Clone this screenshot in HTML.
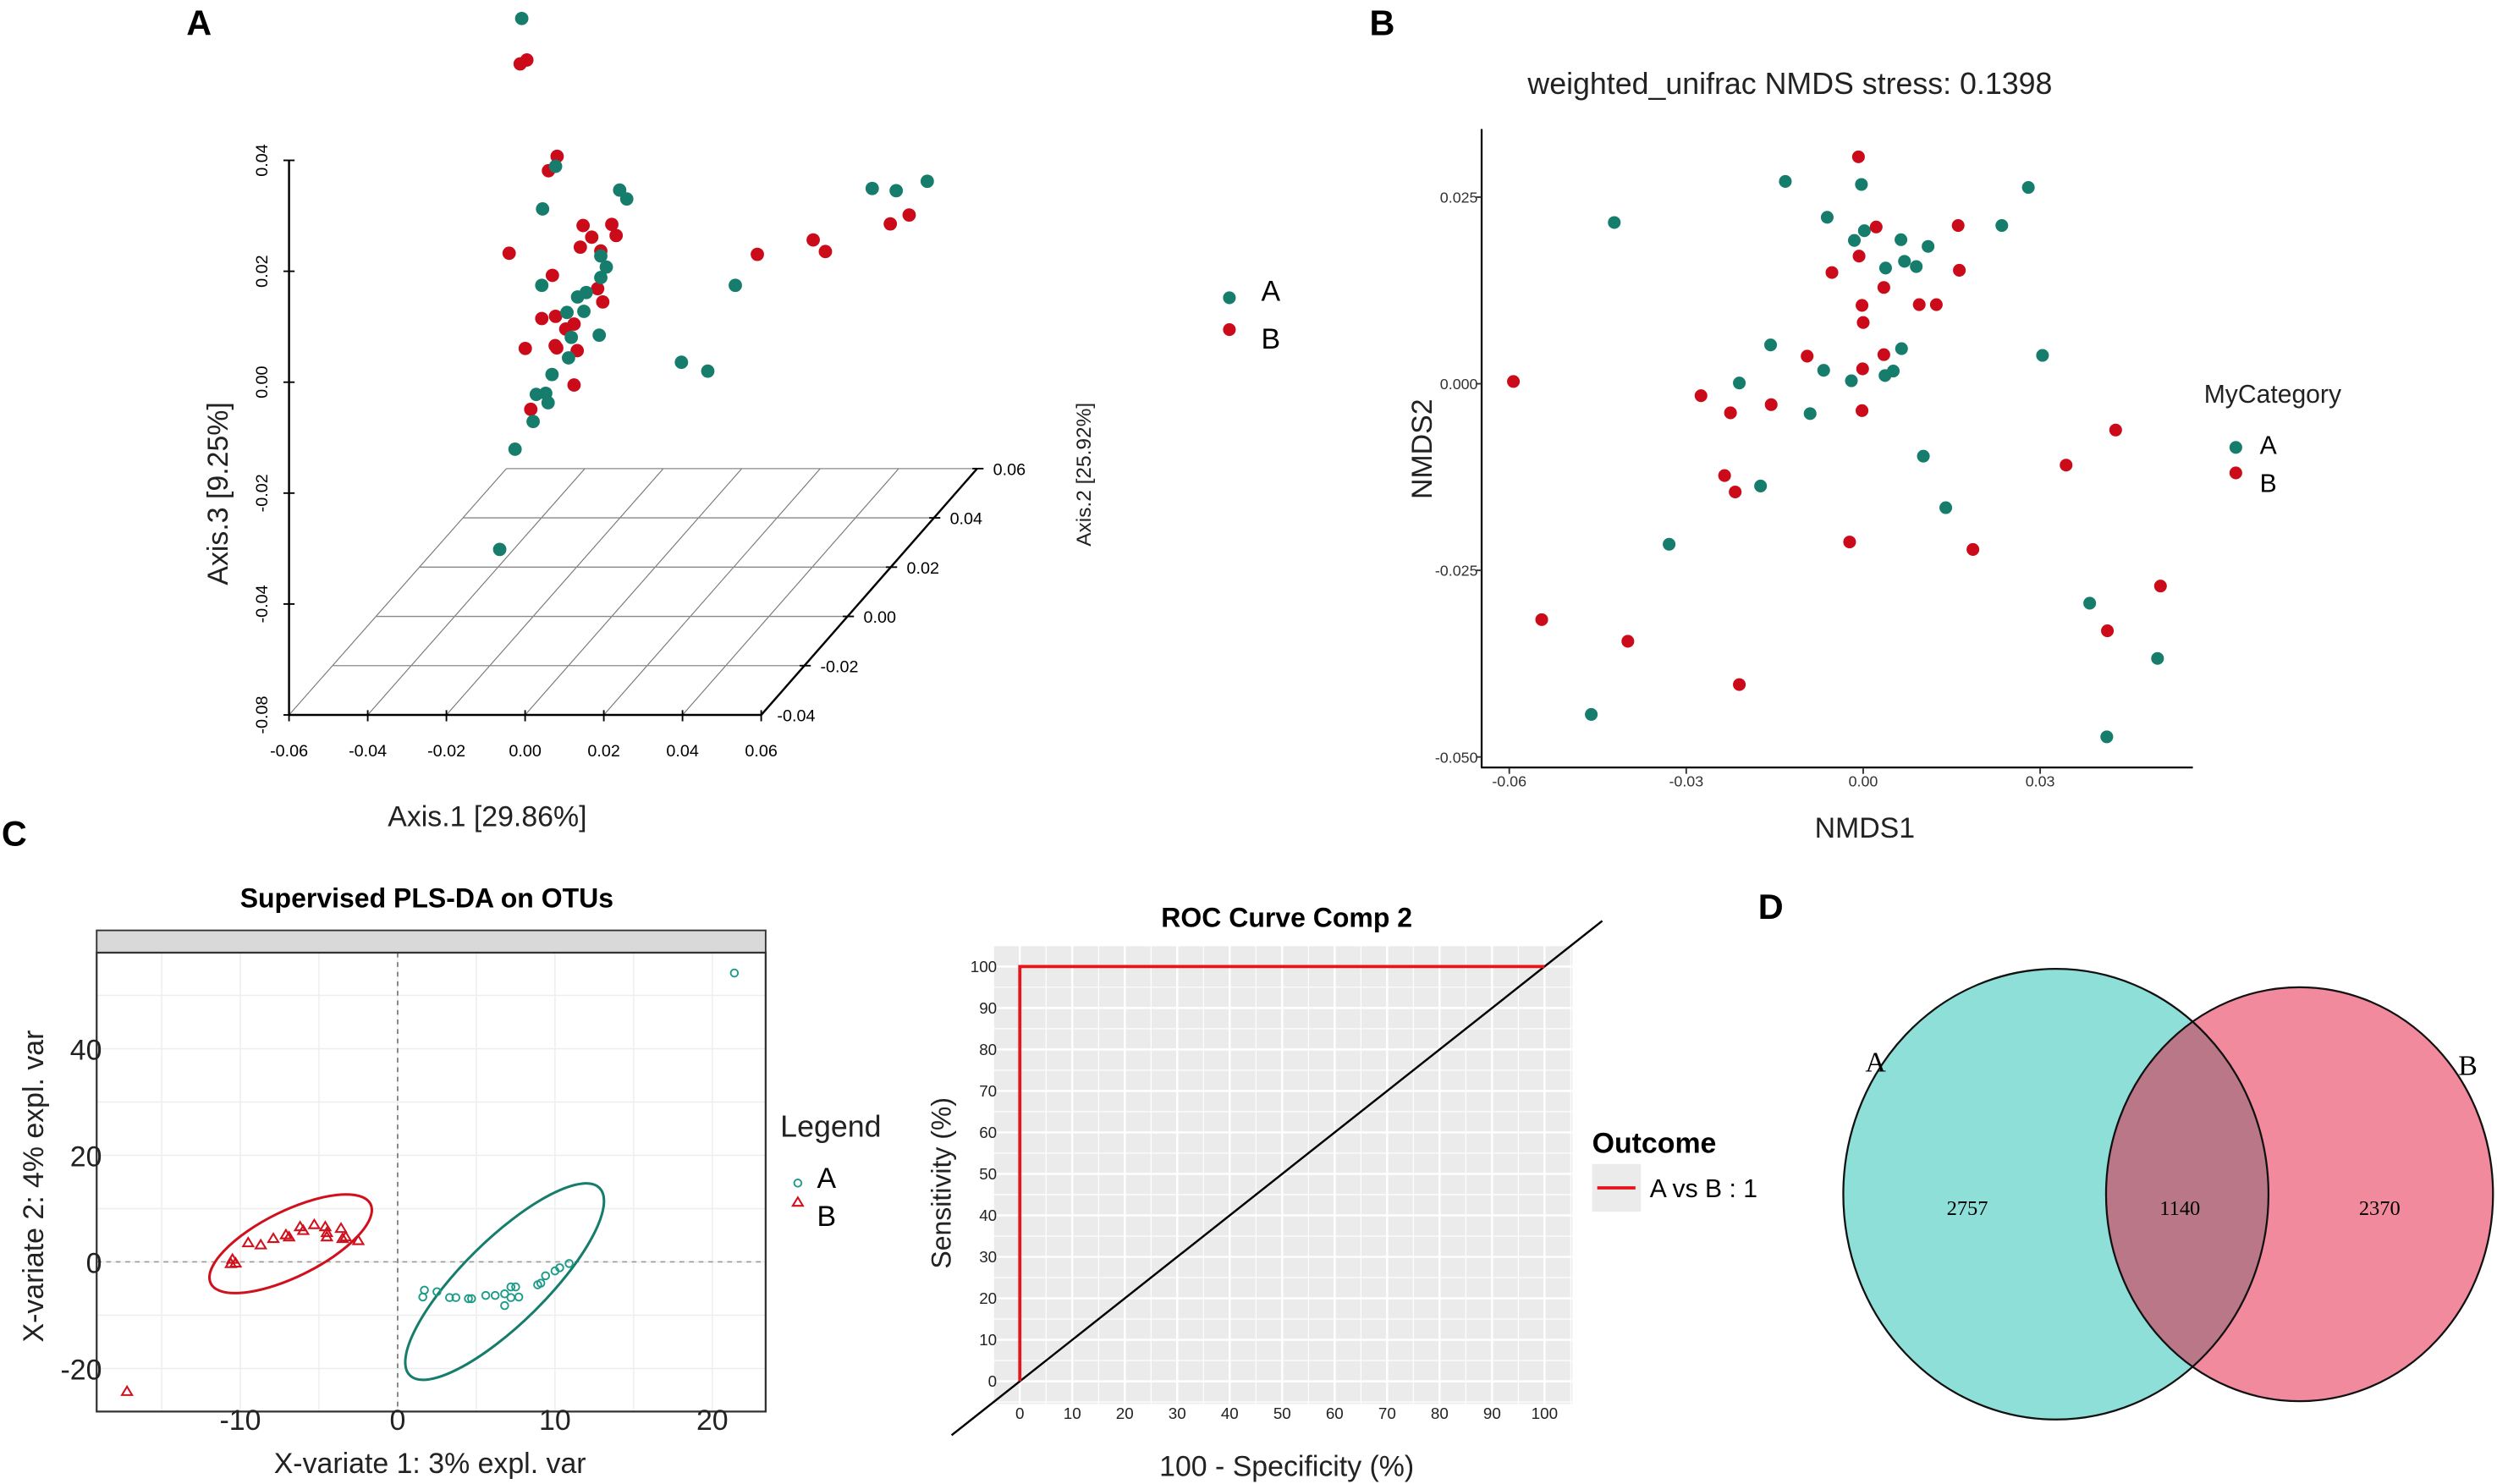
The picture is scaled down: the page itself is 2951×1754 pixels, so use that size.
<!DOCTYPE html>
<html><head><meta charset="utf-8"><style>
html,body{margin:0;padding:0;background:#fff;}
svg{display:block;font-family:"Liberation Sans",Arial,sans-serif;}
</style></head><body>
<svg id="fig" width="2951" height="1754" viewBox="0 0 1568 932" preserveAspectRatio="none" xmlns="http://www.w3.org/2000/svg">
<rect x="0" y="0" width="1568" height="932" fill="#fff"/>
<text x="117" y="22" font-size="22" font-weight="bold">A</text>
<text x="860" y="22" font-size="22" font-weight="bold">B</text>
<text x="1" y="531" font-size="22" font-weight="bold">C</text>
<text x="1104" y="577" font-size="22" font-weight="bold">D</text>

<g id="pA"></g>
<g id="pB"></g>
<g id="pC"></g>
<g id="pR"></g>
<g id="pD"></g>
</svg>
<script>
// ---------- Panel A data (projected Axis.1 / Axis.3, in thousandths) ----------
const pcoaAx1A = [-0.8,7.8,4.5,24.1,25.9,88.3,94.4,102.3,19.3,20.7,19.3,4.3,53.5,13.4,15.6,10.7,15.0,11.8,18.9,11.1,39.8,46.5,6.9,2.9,5.3,5.9,2.1,-2.5,-6.4];
const pcoaAx3A = [65.6,38.9,31.2,34.6,33.0,34.9,34.5,36.2,22.7,20.7,18.8,17.4,17.4,15.3,16.1,12.5,12.7,8.0,8.4,4.3,3.5,1.9,1.3,-2.3,-2.1,-3.8,-7.2,-12.2,-30.3];
const pcoaAx1B = [-1.2,0.5,8.2,6.0,14.8,22.1,23.2,17.0,14.1,-4.0,59.1,73.3,76.4,92.9,97.7,19.3,7.0,18.5,19.8,4.3,7.8,10.4,12.5,0.1,7.7,8.1,13.3,12.5,1.5];
const pcoaAx3B = [57.4,58.1,40.7,38.1,28.2,28.4,26.4,26.1,24.3,23.2,23.0,25.6,23.5,28.5,30.1,23.6,19.2,16.8,14.4,11.4,11.8,9.5,10.4,6.0,6.5,6.1,5.6,-0.6,-5.0];
const pcoaXTicks = ["-0.06","-0.04","-0.02","0.00","0.02","0.04","0.06"];
const pcoaZTicks = ["0.04","0.02","0.00","-0.02","-0.04","-0.08"];
const pcoaYTicks = ["-0.04","-0.02","0.00","0.02","0.04","0.06"];
// ---------- Panel B data (thousandths) ----------
const nmdsXA = [-13.2,-0.3,28.0,-42.2,-6.1,23.5,0.2,-1.5,6.4,11.0,7.0,3.8,9.0,-15.7,6.5,30.4,-6.7,5.1,3.7,-21.0,-2.0,-9.0,10.2,-17.4,14.0,-32.9,38.4,49.9,-46.1,41.3];
const nmdsYA = [27.1,26.7,26.3,21.6,22.3,21.2,20.5,19.2,19.3,18.4,16.4,15.5,15.7,5.2,4.7,3.8,1.8,1.7,1.1,0.1,0.4,-4.0,-9.7,-13.7,-16.6,-21.5,-29.4,-36.8,-44.3,-47.3];
const nmdsXB = [-0.8,2.2,16.1,-0.7,-5.3,16.3,3.5,-0.2,9.5,12.4,0.0,-9.5,3.5,-0.1,-59.3,-27.5,-15.6,-22.5,-0.2,42.8,34.4,-23.5,-21.7,-2.3,18.6,50.4,-54.5,41.4,-39.9,-21.0];
const nmdsYB = [30.4,21.0,21.2,17.1,14.9,15.2,12.9,10.5,10.6,10.6,8.2,3.7,3.9,2.0,0.3,-1.6,-2.8,-3.9,-3.6,-6.2,-10.9,-12.3,-14.5,-21.2,-22.2,-27.1,-31.6,-33.1,-34.5,-40.3];
const nmdsXTicks = [-60,-30,0,30];
const nmdsXLabels = ["-0.06","-0.03","0.00","0.03"];
const nmdsYTicks = [25,0,-25,-50];
const nmdsYLabels = ["0.025","0.000","-0.025","-0.050"];
// ---------- Panel C data ----------
const plsXA = [21.4,1.7,2.5,1.6,3.3,3.7,4.5,4.7,5.6,6.2,6.8,7.2,7.5,7.7,6.8,7.2,8.9,9.1,9.4,10.0,10.3,10.9];
const plsYA = [54.2,-5.3,-5.6,-6.6,-6.7,-6.7,-6.9,-6.9,-6.3,-6.3,-6.0,-4.7,-4.7,-6.6,-8.2,-6.7,-4.3,-4.0,-2.6,-1.7,-1.1,-0.3];
const plsXB = [-17.2,-10.5,-10.3,-10.6,-9.5,-8.7,-7.9,-7.1,-6.9,-6.2,-6.0,-5.3,-4.6,-4.5,-4.5,-3.6,-3.5,-2.5,-3.3];
const plsYB = [-24.3,0.5,-0.2,-0.3,3.6,3.2,4.4,5.1,4.7,6.6,5.9,7.0,6.6,5.5,4.7,6.3,4.4,4.0,4.7];
const plsEllipseCenterX = [6.8,-6.8];
const plsEllipseCenterY = [-3.7,3.4];
const plsXTicks = [-10,0,10,20];
const plsYTicks = [-20,0,20,40];
// ---------- ROC data ----------
const rocX = [0,0,100];
const rocY = [0,100,100];
const rocTicks = [0,10,20,30,40,50,60,70,80,90,100];
// ---------- Venn data ----------
const vennSets = ["A","B"];
const vennCounts = [2757,1140,2370];

const NS="http://www.w3.org/2000/svg";
function mk(tag, attrs, parent){const e=document.createElementNS(NS,tag);for(const k in attrs)e.setAttribute(k,attrs[k]);parent.appendChild(e);return e;}
function tx(str, attrs, parent){const e=mk('text',attrs,parent);e.textContent=str;return e;}
const TEAL="#167d6c", RED="#cc0b1a";

// ================= Panel A =================
(function(){
const g=document.getElementById('pA');
const ax=v=>329.6+v*2.47, ay=v=>239.7-v*3.477;
const bl=[181.5,449], br=[478,449], tl=[318,294.3], tr=[613.6,294.3];
for(let i=0;i<=6;i++){
  const t=i/6;
  const l=mk('line',{x1:bl[0]+(br[0]-bl[0])*t,y1:449,x2:tl[0]+(tr[0]-tl[0])*t,y2:294.3,stroke:'#777','stroke-width':0.6},g);
  
  
}
for(let i=0;i<=5;i++){
  const t=i/5;
  const y=449+(294.3-449)*t;
  const x1=bl[0]+(tl[0]-bl[0])*t, x2=br[0]+(tr[0]-br[0])*t;
  const l=mk('line',{x1:x1,y1:y,x2:x2,y2:y,stroke:i==0?'#000':'#888','stroke-width':i==0?1.3:0.7},g);
  
  
  if(i>0){
    const tk=mk('line',{x1:x2-3,y1:y,x2:x2+4,y2:y,stroke:'#000','stroke-width':1},g);
    
    
  }
  const lb=tx(pcoaYTicks[i],{x:x2+10,y:y+4,'font-size':10.5},g);
  
  
}
const d2=mk('line',{x1:br[0],y1:449,x2:tr[0],y2:294.3,stroke:'#000','stroke-width':1.3},g);


const v3=mk('line',{x1:181.5,y1:100.7,x2:181.5,y2:449,stroke:'#000','stroke-width':1.3},g);


for(let i=0;i<7;i++){
  const x=181.5+i*(478-181.5)/6;
  const t=mk('line',{x1:x,y1:446,x2:x,y2:453,stroke:'#000','stroke-width':1},g);
  
  
  const lb=tx(pcoaXTicks[i],{x:x,y:475,'font-size':10.5,'text-anchor':'middle'},g);
  
  
}
for(let i=0;i<6;i++){
  const y=100.7+i*(449-100.7)/5;
  const t=mk('line',{x1:178,y1:y,x2:185,y2:y,stroke:'#000','stroke-width':1},g);
  
  
  const lb=tx(pcoaZTicks[i],{x:0,y:0,'font-size':10.5,'text-anchor':'middle',transform:`translate(168,${y}) rotate(-90)`},g);
  
  
}
const t1=tx('Axis.1 [29.86%]',{x:306,y:519,'font-size':18,'text-anchor':'middle',fill:'#222'},g);


const t3=tx('Axis.3 [9.25%]',{x:0,y:0,'font-size':18,'text-anchor':'middle',fill:'#222',transform:'translate(143,310) rotate(-90)'},g);


const t2=tx('Axis.2 [25.92%]',{x:0,y:0,'font-size':13,'text-anchor':'middle',fill:'#222',transform:'translate(685,298) rotate(-90)'},g);


pcoaAx1B.forEach((v,i)=>{const c=mk('circle',{cx:ax(v),cy:ay(pcoaAx3B[i]),r:4.2,fill:RED},g);
  
  });
pcoaAx1A.forEach((v,i)=>{const c=mk('circle',{cx:ax(v),cy:ay(pcoaAx3A[i]),r:4.2,fill:TEAL},g);
  
  });
const la=mk('circle',{cx:772,cy:187,r:4,fill:TEAL},g);


const lbB=mk('circle',{cx:772,cy:207,r:4,fill:RED},g);


const lta=tx('A',{x:792,y:189,'font-size':18},g);


const ltb=tx('B',{x:792,y:219,'font-size':18},g);


})();

// ================= Panel B =================
(function(){
const g=document.getElementById('pB');
const sx=v=>1170+v*3.704, sy=v=>241-v*4.688;
const ttl=tx('weighted_unifrac NMDS stress: 0.1398',{x:1124,y:59,'font-size':19,'text-anchor':'middle',fill:'#222'},g);


const yl=mk('line',{x1:930.4,y1:81,x2:930.4,y2:482,stroke:'#000','stroke-width':1.2},g);


const xl=mk('line',{x1:930,y1:482,x2:1377,y2:482,stroke:'#000','stroke-width':1.2},g);


nmdsXTicks.forEach((v,i)=>{
  const t=mk('line',{x1:sx(v),y1:482,x2:sx(v),y2:486,stroke:'#333'},g);
  
  
  const l=tx(nmdsXLabels[i],{x:sx(v),y:494,'font-size':9.5,'text-anchor':'middle',fill:'#333'},g);
  
  
});
nmdsYTicks.forEach((v,i)=>{
  const t=mk('line',{x1:927,y1:sy(v),x2:930.4,y2:sy(v),stroke:'#333'},g);
  
  
  const l=tx(nmdsYLabels[i],{x:928,y:sy(v)+3.5,'font-size':9.5,'text-anchor':'end',fill:'#333'},g);
  
  
});
const xt=tx('NMDS1',{x:1171,y:526,'font-size':18,'text-anchor':'middle',fill:'#222'},g);


const yt=tx('NMDS2',{x:0,y:0,'font-size':18,'text-anchor':'middle',fill:'#222',transform:'translate(899,282) rotate(-90)'},g);


nmdsXA.forEach((v,i)=>{const c=mk('circle',{cx:sx(v),cy:sy(nmdsYA[i]),r:4,fill:TEAL},g);
  
  });
nmdsXB.forEach((v,i)=>{const c=mk('circle',{cx:sx(v),cy:sy(nmdsYB[i]),r:4,fill:RED},g);
  
  });
const lt=tx('MyCategory',{x:1384,y:253,'font-size':16,fill:'#222'},g);


const m1=mk('circle',{cx:1404,cy:281,r:4,fill:TEAL},g);


const m2=mk('circle',{cx:1404,cy:297,r:4,fill:RED},g);


const a=tx('A',{x:1419,y:285,'font-size':16},g);


const b=tx('B',{x:1419,y:309,'font-size':16},g);


})();

// ================= Panel C (PLS-DA) =================
(function(){
const g=document.getElementById('pC');
const sx=v=>249.7+v*9.88, sy=v=>792.5-v*3.347;
const x0=60.7,x1=480.8,y0=598.3,y1=886.5;
const ttl=tx('Supervised PLS-DA on OTUs',{x:268,y:570,'font-size':17,'font-weight':'bold','text-anchor':'middle'},g);


const strip=mk('rect',{x:x0,y:584.3,width:x1-x0,height:14,fill:'#d9d9d9',stroke:'#333','stroke-width':1},g);


[-15,-5,5,15].concat(plsXTicks).forEach(v=>{const l=mk('line',{x1:sx(v),y1:y0,x2:sx(v),y2:y1,stroke:'#eeeeee','stroke-width':0.8},g);
  
  });
[-10,10,30,50].concat(plsYTicks).forEach(v=>{const l=mk('line',{x1:x0,y1:sy(v),x2:x1,y2:sy(v),stroke:'#eeeeee','stroke-width':0.8},g);
  
  });
const dv=mk('line',{x1:sx(0),y1:y0,x2:sx(0),y2:y1,stroke:'#777','stroke-dasharray':'3,3','stroke-width':0.9},g);


const dh=mk('line',{x1:x0,y1:sy(0),x2:x1,y2:sy(0),stroke:'#999','stroke-dasharray':'3,3','stroke-width':0.9},g);


const box=mk('rect',{x:x0,y:y0,width:x1-x0,height:y1-y0,fill:'none',stroke:'#333','stroke-width':1.2},g);


plsXTicks.forEach(v=>{const l=tx(String(v),{x:sx(v),y:898,'font-size':18,'text-anchor':'middle',fill:'#222'},g);
  
  });
plsYTicks.forEach(v=>{const l=tx(String(v),{x:64,y:sy(v)+7,'font-size':18,'text-anchor':'end',fill:'#222'},g);
  
  });
const xt=tx('X-variate 1: 3% expl. var',{x:270,y:925,'font-size':18,'text-anchor':'middle',fill:'#222'},g);


const yt=tx('X-variate 2: 4% expl. var',{x:0,y:0,'font-size':18,'text-anchor':'middle',fill:'#222',transform:'translate(27,745) rotate(-90)'},g);


const eA=mk('ellipse',{cx:sx(plsEllipseCenterX[0]),cy:sy(plsEllipseCenterY[0]),rx:83.7,ry:26.3,fill:'none',stroke:TEAL,'stroke-width':1.6,transform:`rotate(-44.6 ${sx(plsEllipseCenterX[0])} ${sy(plsEllipseCenterY[0])})`},g);


const eB=mk('ellipse',{cx:sx(plsEllipseCenterX[1]),cy:sy(plsEllipseCenterY[1]),rx:56,ry:20.6,fill:'none',stroke:'#d0101c','stroke-width':1.6,transform:`rotate(-26.4 ${sx(plsEllipseCenterX[1])} ${sy(plsEllipseCenterY[1])})`},g);


plsXA.forEach((v,i)=>{const c=mk('circle',{cx:sx(v),cy:sy(plsYA[i]),r:2.3,fill:'none',stroke:'#1a9a88','stroke-width':1},g);
  
  });
plsXB.forEach((v,i)=>{const x=sx(v),y=sy(plsYB[i]);const p=mk('polygon',{points:`${x},${y-3} ${x-3.2},${y+2.3} ${x+3.2},${y+2.3}`,fill:'none',stroke:'#d0101c','stroke-width':1.1},g);
  
  });
const lt=tx('Legend',{x:490,y:714,'font-size':19,fill:'#222'},g);


const ma=mk('circle',{cx:501,cy:743,r:2.3,fill:'none',stroke:'#1a9a88','stroke-width':1},g);


const mb=mk('polygon',{points:'501,752 497.8,757.3 504.2,757.3',fill:'none',stroke:'#d0101c','stroke-width':1.1},g);


const la=tx('A',{x:513,y:746,'font-size':18},g);


const lb=tx('B',{x:513,y:770,'font-size':18},g);


})();

// ================= ROC =================
(function(){
const g=document.getElementById('pR');
const sx=v=>640.4+v*3.295, sy=v=>867.5-v*2.605;
const bg=mk('rect',{x:623.7,y:594,width:363.7,height:287.7,fill:'#ebebeb'},g);


for(let v=-5;v<=105;v+=5){
  const lx=mk('line',{x1:sx(v),y1:594,x2:sx(v),y2:881.7,stroke:'#fff','stroke-width':v%10==0?1.3:0.6},g);
  
  
  const ly=mk('line',{x1:623.7,y1:sy(v),x2:987.4,y2:sy(v),stroke:'#fff','stroke-width':v%10==0?1.3:0.6},g);
  
  
}
rocTicks.forEach(v=>{
  const a=tx(String(v),{x:sx(v),y:891,'font-size':10,'text-anchor':'middle',fill:'#222'},g);
  
  
  const b=tx(String(v),{x:626,y:sy(v)+3.5,'font-size':10,'text-anchor':'end',fill:'#222'},g);
  
  
});
const diag=mk('line',{x1:sx(-13),y1:sy(-13),x2:sx(111),y2:sy(111),stroke:'#000','stroke-width':1.3},g);


const pts=rocX.map((v,i)=>sx(v)+','+sy(rocY[i])).join(' ');
const rl=mk('polyline',{points:pts,fill:'none',stroke:'#e8141b','stroke-width':2},g);


const ttl=tx('ROC Curve Comp 2',{x:808,y:582,'font-size':17,'font-weight':'bold','text-anchor':'middle'},g);


const xt=tx('100 - Specificity (%)',{x:808,y:927,'font-size':18,'text-anchor':'middle',fill:'#222'},g);


const yt=tx('Sensitivity (%)',{x:0,y:0,'font-size':17,'text-anchor':'middle',fill:'#222',transform:'translate(597,743) rotate(-90)'},g);


const ot=tx('Outcome',{x:999.8,y:724,'font-size':18,'font-weight':'bold'},g);


const kb=mk('rect',{x:999.8,y:731,width:30.6,height:30,fill:'#ebebeb'},g);


const kl=mk('line',{x1:1003,y1:746,x2:1027,y2:746,stroke:'#e8141b','stroke-width':2},g);


const kt=tx('A vs B : 1',{x:1036,y:752,'font-size':16},g);


})();

// ================= Venn =================
(function(){
const g=document.getElementById('pD');
const cA={cx:1291,cy:750,rx:133.5,ry:141.5}, cB={cx:1444,cy:750,rx:121.5,ry:130};
const defs=mk('defs',{},g);
const cp=mk('clipPath',{id:'clipA'},defs);
mk('ellipse',{cx:cA.cx,cy:cA.cy,rx:cA.rx,ry:cA.ry},cp);
const ea=mk('ellipse',{cx:cA.cx,cy:cA.cy,rx:cA.rx,ry:cA.ry,fill:'#8fdfd9',stroke:'none'},g);


const eb=mk('ellipse',{cx:cB.cx,cy:cB.cy,rx:cB.rx,ry:cB.ry,fill:'#f28a9e',stroke:'none'},g);


const ov=mk('ellipse',{cx:cB.cx,cy:cB.cy,rx:cB.rx,ry:cB.ry,fill:'#b97787','clip-path':'url(#clipA)'},g);


const oa=mk('ellipse',{cx:cA.cx,cy:cA.cy,rx:cA.rx,ry:cA.ry,fill:'none',stroke:'#111','stroke-width':1.2},g);


const ob=mk('ellipse',{cx:cB.cx,cy:cB.cy,rx:cB.rx,ry:cB.ry,fill:'none',stroke:'#111','stroke-width':1.2},g);


const la=tx(vennSets[0],{x:1177.8,y:673,'font-size':18,'font-family':'"Liberation Serif",serif','text-anchor':'middle'},g);


const lb=tx(vennSets[1],{x:1549.7,y:675,'font-size':18,'font-family':'"Liberation Serif",serif','text-anchor':'middle'},g);


const xs=[1235.4,1368.9,1494.3];
vennCounts.forEach((v,i)=>{const t=tx(String(v),{x:xs[i],y:763,'font-size':13,'font-family':'"Liberation Serif",serif','text-anchor':'middle'},g);
  
  });
})();
</script>
</body></html>
